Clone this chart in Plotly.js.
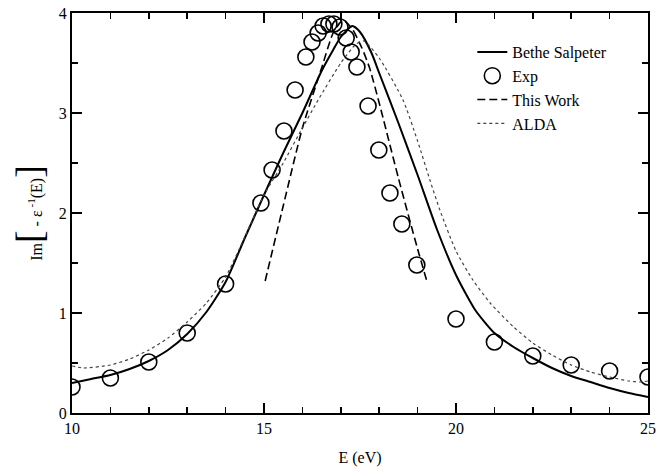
<!DOCTYPE html>
<html>
<head>
<meta charset="utf-8">
<script src="https://cdn.plot.ly/plotly-3.0.1.min.js"></script>
<style>html,body{margin:0;padding:0;background:#fff;}#chart{width:672px;height:470px;}</style>
</head>
<body>
<div id="chart"></div>
<script>
// Bethe Salpeter (solid)
const bsE = [10, 10.5, 11, 11.5, 12, 12.5, 13, 13.5, 14, 14.5, 15, 15.5, 16, 16.5, 16.8, 17, 17.3, 17.5, 17.8, 18, 18.5, 19, 19.5, 20, 20.5, 21, 21.5, 22, 22.5, 23, 23.5, 24, 24.5, 25];
const bsV = [0.30, 0.34, 0.38, 0.44, 0.52, 0.63, 0.79, 1.01, 1.31, 1.75, 2.18, 2.60, 3.00, 3.42, 3.63, 3.76, 3.87, 3.81, 3.60, 3.40, 2.90, 2.38, 1.84, 1.38, 1.03, 0.80, 0.66, 0.55, 0.45, 0.37, 0.31, 0.25, 0.20, 0.16];

// Experiment (open circles)
const expE = [10, 11, 12, 13, 14, 14.92, 15.21, 15.52, 15.81, 16.09, 16.25, 16.41, 16.54, 16.69, 16.82, 16.98, 17.14, 17.27, 17.42, 17.71, 17.99, 18.28, 18.59, 18.98, 20, 21, 22, 23, 24, 25];
const expV = [0.26, 0.35, 0.51, 0.80, 1.29, 2.10, 2.43, 2.82, 3.23, 3.56, 3.71, 3.80, 3.87, 3.89, 3.89, 3.86, 3.75, 3.61, 3.46, 3.07, 2.63, 2.20, 1.89, 1.48, 0.94, 0.71, 0.57, 0.48, 0.42, 0.36];

// This Work (dashed)
const twE = [15.03, 15.5, 16.0, 16.5, 16.8, 17.0, 17.1, 17.3, 17.55, 17.75, 18.0, 18.5, 19.0, 19.24];
const twV = [1.32, 2.07, 2.85, 3.45, 3.80, 3.91, 3.92, 3.84, 3.65, 3.45, 3.10, 2.35, 1.64, 1.32];

// ALDA (dotted)
const aldaE = [10, 10.3, 11, 11.5, 12, 12.5, 13, 13.5, 14, 14.5, 15, 15.5, 16, 16.41, 17, 17.4, 17.6, 18, 18.62, 19, 19.32, 19.58, 20, 20.44, 20.89, 21.5, 22, 22.5, 23, 23.5, 24, 24.5, 24.8, 25];
const aldaV = [0.47, 0.45, 0.48, 0.54, 0.63, 0.75, 0.91, 1.10, 1.36, 1.76, 2.18, 2.50, 2.85, 3.13, 3.50, 3.69, 3.72, 3.55, 3.13, 2.72, 2.33, 2.03, 1.62, 1.33, 1.10, 0.86, 0.70, 0.58, 0.48, 0.41, 0.36, 0.32, 0.31, 0.32];

const legendLabels = ['Bethe Salpeter', 'Exp', 'This Work', 'ALDA'];

const serif = 'Liberation Serif, Times New Roman, serif';

const traces = [
  {x: bsE, y: bsV, name: legendLabels[0], mode: 'lines', line: {color: '#000', width: 2, shape: 'spline', smoothing: 0.6}},
  {x: expE, y: expV, name: legendLabels[1], mode: 'markers', marker: {symbol: 'circle-open', size: 16, color: '#000', line: {width: 1.6, color: '#000'}}},
  {x: twE, y: twV, name: legendLabels[2], mode: 'lines', line: {color: '#000', width: 1.6, dash: '8px,4px', shape: 'spline', smoothing: 0.6}},
  {x: aldaE, y: aldaV, name: legendLabels[3], mode: 'lines', line: {color: '#444', width: 1.2, dash: 'dot', shape: 'spline', smoothing: 0.6}}
];

const axisCommon = {
  showgrid: false, zeroline: false, showline: true, linecolor: '#000', linewidth: 2,
  mirror: 'allticks', ticks: 'inside', ticklen: 10, tickwidth: 1.5, tickcolor: '#000',
  tickfont: {family: serif, size: 16, color: '#000'}
};

const layout = {
  width: 672, height: 470,
  margin: {l: 72, r: 24, t: 13, b: 57},
  paper_bgcolor: '#fff', plot_bgcolor: '#fff',
  showlegend: true,
  legend: {x: 0.695, y: 0.945, xanchor: 'left', yanchor: 'top', bgcolor: 'rgba(0,0,0,0)',
           font: {family: serif, size: 16, color: '#000'}, itemwidth: 30, tracegroupgap: 0},
  xaxis: Object.assign({}, axisCommon, {
    range: [10, 25], dtick: 5, tick0: 10,
    minor: {dtick: 1, ticks: 'inside', ticklen: 6, tickwidth: 1.5, tickcolor: '#000'},
    title: {text: 'E (eV)', font: {family: serif, size: 16, color: '#000'}, standoff: 16}
  }),
  yaxis: Object.assign({}, axisCommon, {
    range: [0, 4], dtick: 1, tick0: 0,
    minor: {dtick: 0.5, ticks: 'inside', ticklen: 6, tickwidth: 1.5, tickcolor: '#000'},
    title: {text: "Im<span style='font-size:38px'>[</span> - ε<sup> -1</sup>(E)<span style='font-size:38px'>]</span>", font: {family: serif, size: 16, color: '#000'}, standoff: 12}
  })
};

Plotly.newPlot('chart', traces, layout, {displayModeBar: false, staticPlot: true});
</script>
</body>
</html>
